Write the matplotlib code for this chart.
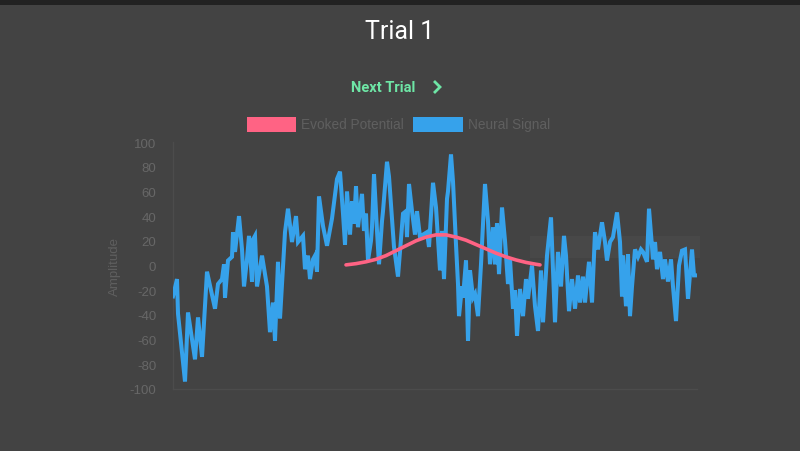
import matplotlib
matplotlib.use("Agg")
import matplotlib.pyplot as plt
from matplotlib.patches import Rectangle
from matplotlib.lines import Line2D

# ---- data ----
neural_t = [0, 4, 5, 12, 15, 22, 25, 29, 34, 42, 45, 49, 51, 52, 55, 59, 60, 62, 66, 69,
            71, 74, 76, 79, 80, 82, 84, 89, 94, 97, 100, 102, 105, 107, 112, 115, 119, 123, 125, 130,
            132, 135, 137, 140, 142, 144, 146, 150, 154, 159, 164, 167, 170, 172, 174, 177, 179, 181, 183, 185,
            189, 191, 193, 195, 198, 199, 201, 204, 206, 209, 210, 214, 216, 221, 225, 230, 233, 234, 236, 239,
            242, 244, 247, 250, 254, 256, 260, 263, 267, 269, 271, 274, 275, 278, 280, 283, 285, 286, 289, 290,
            293, 295, 297, 300, 302, 305, 308, 312, 315, 317, 320, 322, 324, 326, 329, 332, 335, 337, 340, 342,
            344, 347, 350, 353, 355, 359, 362, 365, 368, 370, 374, 378, 382, 385, 388, 391, 393, 396, 399, 402,
            405, 407, 410, 412, 416, 419, 422, 425, 429, 432, 434, 437, 440, 444, 447, 449, 450, 453, 455, 457,
            459, 462, 465, 468, 470, 474, 476, 480, 482, 484, 487, 490, 492, 495, 498, 500, 503, 506, 509, 512,
            515, 519, 521, 524]
neural_v = [-25, -11, -39, -94, -38, -76, -42, -74, -5, -35, -15, -11, 1, -26, 4, 7, 27, 11, 40, 13,
            -17, 5, 24, -13, 21, 24, -17, 8, -17, -54, -30, -61, 3, -43, 27, 46, 19, 40, 19, 24,
            -3, 8, -11, 5, 8, -5, 56, 32, 16, 38, 70, 76, 42, 17, 60, 25, 52, 34, 64, 31,
            58, 28, 42, 4, 20, 31, 74, 28, 1, 36, 44, 84, 72, 15, -9, 42, 44, 23, 66, 44,
            25, 44, 23, 25, 27, 15, 67, 47, -4, 28, -11, 54, 60, 90, 68, 17, -15, -41, -17, -26,
            4, -61, -4, -26, -23, -41, 1, 66, 36, 1, 31, 1, 34, -7, 47, 20, -15, 5, -35, -20,
            -57, -19, -41, -11, -27, 0, -33, -53, -4, -46, 8, 39, -46, 11, -17, 24, 8, -37, -11, -35,
            -8, -30, -9, -30, 3, -30, 27, 13, 35, 19, 4, 19, 23, 43, 19, -25, 8, -33, 9, -41,
            -17, 13, 7, 13, 11, 3, 46, 5, 19, -3, 11, -11, 5, -13, 5, -17, -45, 0, 12, 13,
            -27, 13, -8, -8]

evoked_t = [173, 183, 193, 203, 213, 223, 233, 243, 253, 263, 273, 283, 293, 303, 313,
            323, 333, 343, 353, 363, 367]
evoked_v = [0.5, 1.5, 3, 5, 8, 12, 16, 20, 23, 24.8, 24.8, 23, 20.5, 17, 13.5,
            10, 7, 4.5, 2.5, 1, 0.5]

y_ticks = [-100, -80, -60, -40, -20, 0, 20, 40, 60, 80, 100]

BG = "#434343"
BLUE = "#36a2eb"
PINK = "#ff6384"
GRAY = "#676767"
GREEN = "#6ee6a6"

plt.rcParams['font.family'] = ['Roboto', 'DejaVu Sans']

fig = plt.figure(figsize=(8, 4.52), dpi=100, facecolor=BG)

# dark top strip
fig.patches.append(Rectangle((0, 1 - 6 / 452), 1, 6 / 452, transform=fig.transFigure,
                             facecolor="#222222", edgecolor="none", zorder=0))

ax = fig.add_axes([173 / 800, 62 / 452, 524 / 800, 247 / 452])
ax.set_facecolor("none")

# faint tooltip remnant behind the lines
ax.add_patch(Rectangle((357, 6), 170, 18, facecolor="#484848", edgecolor="none",
                       zorder=1, clip_on=False))

ax.plot(neural_t, neural_v, color=BLUE, lw=2.9, solid_joinstyle="miter", zorder=3)
ax.plot(evoked_t, evoked_v, color=PINK, lw=2.6, solid_capstyle="round", zorder=4)

ax.set_xlim(0, 524)
ax.set_ylim(-100, 100)
ax.set_yticks(y_ticks)
ax.set_yticklabels([str(v) for v in y_ticks], color=GRAY, fontsize=9.5,
                   family=['Liberation Sans', 'DejaVu Sans'])
ax.set_xticks([])
ax.tick_params(axis="y", length=0, pad=12)
for s in ["top", "right"]:
    ax.spines[s].set_visible(False)
for s in ["left", "bottom"]:
    ax.spines[s].set_color("#4c4c4c")
    ax.spines[s].set_linewidth(1)
ax.set_ylabel("Amplitude", color="#5f5f5f", fontsize=9.5, labelpad=6,
              family=['Liberation Sans', 'DejaVu Sans'])

# title and "Next Trial" link
fig.text(0.5, 1 - 32 / 452, "Trial 1", color="white", fontsize=18,
         ha="center", va="center")
fig.text(351 / 800, 1 - 88 / 452, "Next Trial", color=GREEN, fontsize=10.5,
         fontweight="bold", ha="left", va="center")
fig.lines.append(Line2D([434 / 800, 440 / 800, 434 / 800],
                        [1 - 82 / 452, 1 - 88 / 452, 1 - 94 / 452],
                        transform=fig.transFigure, color=GREEN, lw=2.0,
                        solid_joinstyle="miter", solid_capstyle="butt"))

# legend
ly = 1 - 125 / 452
fig.patches.append(Rectangle((247 / 800, 1 - 133 / 452), 49 / 800, 15 / 452,
                             transform=fig.transFigure, facecolor=PINK, edgecolor="none"))
fig.text(301 / 800, ly, "Evoked Potential", color="#5f5f5f", fontsize=9.8,
         ha="left", va="center", family=['Liberation Sans', 'DejaVu Sans'])
fig.patches.append(Rectangle((413 / 800, 1 - 133 / 452), 50 / 800, 15 / 452,
                             transform=fig.transFigure, facecolor=BLUE, edgecolor="none"))
fig.text(468 / 800, ly, "Neural Signal", color="#5f5f5f", fontsize=9.8,
         ha="left", va="center", family=['Liberation Sans', 'DejaVu Sans'])

fig.savefig("out.png", dpi=100, facecolor=BG)
